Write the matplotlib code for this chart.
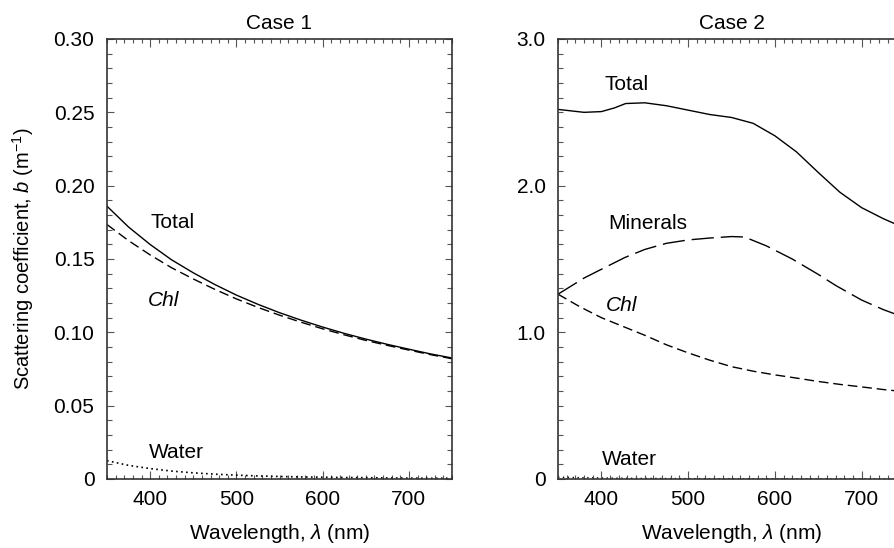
import matplotlib
matplotlib.use("Agg")
import matplotlib.pyplot as plt
from matplotlib.ticker import MultipleLocator, FixedLocator

plt.rcParams['font.family'] = ['Liberation Sans', 'DejaVu Sans']
plt.rcParams['mathtext.fontset'] = 'custom'
plt.rcParams['mathtext.rm'] = 'Liberation Sans'
plt.rcParams['mathtext.it'] = 'Liberation Sans:italic'
plt.rcParams['font.size'] = 15

# Case 1
wl1 = [350, 375, 400, 425, 450, 475, 500, 525, 550, 575, 600, 625, 650, 675, 700, 725, 750]
total1 = [0.186, 0.1718, 0.1599, 0.1494, 0.1406, 0.1326, 0.1254, 0.1191, 0.1134, 0.1083, 0.1036, 0.0993, 0.0954, 0.0918, 0.0885, 0.0853, 0.0825]
chl1 = [0.1735, 0.1625, 0.1528, 0.1440, 0.1364, 0.1293, 0.1228, 0.1170, 0.1117, 0.1069, 0.1024, 0.0983, 0.0945, 0.0911, 0.0879, 0.0848, 0.0820]
water1 = [0.0125, 0.0093, 0.0071, 0.0054, 0.0042, 0.0033, 0.0026, 0.0021, 0.0017, 0.0014, 0.0012, 0.0010, 0.0009, 0.0007, 0.0006, 0.0005, 0.0005]

# Case 2
wl2_total = [350, 365, 380, 400, 415, 428, 450, 475, 500, 525, 550, 575, 600, 625, 650, 675, 700, 725, 750]
total2 = [2.52, 2.51, 2.50, 2.505, 2.53, 2.56, 2.565, 2.545, 2.515, 2.485, 2.465, 2.425, 2.34, 2.23, 2.09, 1.955, 1.85, 1.775, 1.71]
wl2_min = [350, 380, 400, 427, 450, 475, 500, 525, 550, 565, 590, 620, 650, 670, 700, 725, 750]
minerals2 = [1.26, 1.37, 1.43, 1.51, 1.565, 1.607, 1.63, 1.643, 1.653, 1.65, 1.59, 1.50, 1.395, 1.32, 1.22, 1.155, 1.10]
wl2_chl = [350, 375, 400, 425, 450, 475, 500, 525, 550, 575, 600, 625, 650, 675, 700, 725, 750]
chl2 = [1.26, 1.175, 1.10, 1.04, 0.98, 0.915, 0.86, 0.81, 0.766, 0.735, 0.71, 0.688, 0.665, 0.645, 0.628, 0.61, 0.595]
water2 = water1

fig = plt.figure(figsize=(8.94, 5.48), dpi=100)
ax1 = fig.add_axes([107 / 894, 1 - 479 / 548, 345 / 894, 440 / 548])
ax2 = fig.add_axes([558 / 894, 1 - 479 / 548, 347 / 894, 440 / 548])

lw = 1.0
ax1.plot(wl1, total1, color='black', lw=lw)
ax1.plot(wl1, chl1, color='black', lw=lw, dashes=(7, 3.5))
ax1.plot(wl1, water1, color='black', lw=1.2, dashes=(1, 2))

ax2.plot(wl2_total, total2, color='black', lw=lw)
ax2.plot(wl2_min, minerals2, color='black', lw=lw, dashes=(16, 5))
ax2.plot(wl2_chl, chl2, color='black', lw=lw, dashes=(7, 3.5))
ax2.plot(wl1, water2, color='black', lw=lw, dashes=(1, 2.5), zorder=1)

ax1.text(426, 0.175, 'Total', ha='center', va='center')
ax1.text(415, 0.122, 'Chl', ha='center', va='center', fontstyle='italic')
ax1.text(431, 0.0184, 'Water', ha='center', va='center')

ax2.text(429, 2.69, 'Total', ha='center', va='center')
ax2.text(453, 1.74, 'Minerals', ha='center', va='center')
ax2.text(423, 1.18, 'Chl', ha='center', va='center', fontstyle='italic')
ax2.text(432, 0.135, 'Water', ha='center', va='center')

ax1.set_ylim(0, 0.30)
ax1.yaxis.set_major_locator(FixedLocator([0, 0.05, 0.10, 0.15, 0.20, 0.25, 0.30]))
ax1.set_yticklabels(['0', '0.05', '0.10', '0.15', '0.20', '0.25', '0.30'])
ax1.yaxis.set_minor_locator(MultipleLocator(0.01))

ax2.set_ylim(0, 3.0)
ax2.yaxis.set_major_locator(FixedLocator([0, 1.0, 2.0, 3.0]))
ax2.set_yticklabels(['0', '1.0', '2.0', '3.0'])
ax2.yaxis.set_minor_locator(MultipleLocator(0.1))

for ax, title in [(ax1, 'Case 1'), (ax2, 'Case 2')]:
    ax.set_xlim(350, 750)
    ax.xaxis.set_major_locator(FixedLocator([400, 500, 600, 700]))
    ax.xaxis.set_minor_locator(MultipleLocator(10))
    ax.tick_params(which='both', direction='in', top=True, right=True, color='#555555', width=0.8)
    ax.tick_params(axis='x', which='major', length=6, pad=8)
    ax.tick_params(axis='x', which='minor', length=3)
    ax.tick_params(axis='y', which='major', length=5, pad=9)
    ax.tick_params(axis='y', which='minor', length=3.5)
    for s in ax.spines.values():
        s.set_linewidth(1.2)
        s.set_color('#333333')
    ax.set_title(title, fontsize=15, pad=7)
    ax.set_xlabel(r'Wavelength, $\it{\lambda}$ (nm)', labelpad=9)

ax1.set_ylabel(r'Scattering coefficient, $\it{b}$ (m$^{-1}$)', fontsize=14.5)
ax1.yaxis.set_label_coords(-0.205, 0.5)

fig.savefig('out.png', dpi=100)
